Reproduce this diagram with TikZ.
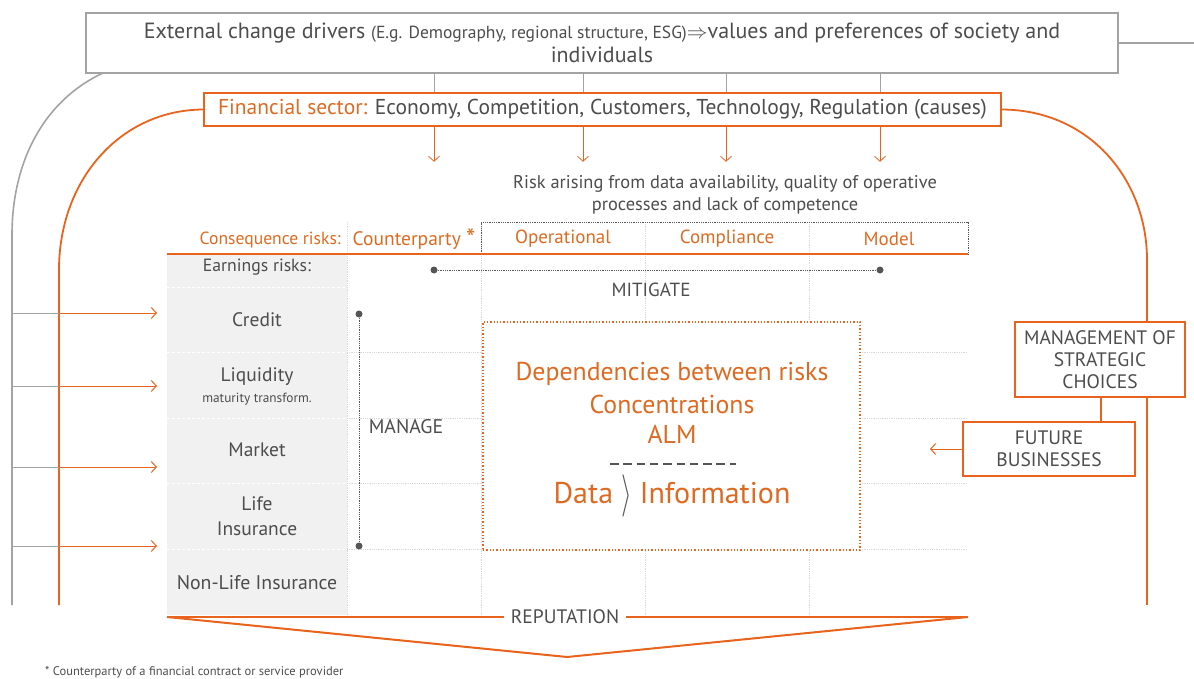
\documentclass[tikz,border=0pt]{standalone}
\usepackage{fontspec}
\setmainfont{PT Sans}
\usetikzlibrary{arrows.meta}
\definecolor{orng}{HTML}{E8641E}
\definecolor{otext}{HTML}{DE6A22}
\definecolor{tgray}{HTML}{4D4D4D}
\definecolor{bgray}{HTML}{A3A3A3}
\definecolor{colfill}{HTML}{F1F1F1}
\definecolor{gridc}{HTML}{D9D9D9}
\definecolor{dgray}{HTML}{555555}
\tikzset{
  fs/.style 2 args={font=\fontsize{#1}{#2}\selectfont},
  gtext/.style={text=tgray, inner sep=0pt},
  otext/.style={text=otext, inner sep=0pt},
  chev/.style={-{Straight Barb[length=5pt,width=11pt]}},
  obox/.style={draw=orng, line width=1.6pt, fill=white, align=center, text=tgray, inner sep=0pt},
  gridline/.style={draw=gridc, densely dotted, line width=0.8pt},
  sepline/.style={draw=white, densely dashed, line width=1pt},
  dotend/.style={circle, fill=dgray, inner sep=0pt, minimum size=7pt},
}
\begin{document}
\begin{tikzpicture}[x=1pt,y=-1pt]
\useasboundingbox (0,0) rectangle (1194,679);

% ---- outer frame lines ----
\node[draw=bgray, line width=1.6pt, minimum width=1032pt, minimum height=60pt, inner sep=0pt] (ext) at (602,43) {};
\node[gtext, fs={22}{24}, align=center] (exttxt) at (602,43)
  {External change drivers {\fontsize{17.5}{20}\selectfont (E.g. Demography, regional structure, ESG)}$\Rightarrow$values and preferences of society and\\individuals};
\coordinate (gtop) at (103,73);
\draw[bgray, line width=1.6pt] (gtop) .. controls (45,100) and (12,160) .. (12,235) -- (12,605);
\coordinate (gright) at (1194,43);
\draw[bgray, line width=1.6pt] (ext.east) -- (gright);

\node[obox, minimum width=797pt, minimum height=33pt] (fin) at (602.5,109.5)
  {\fontsize{21.5}{24}\selectfont{\color{otext}Financial sector:} Economy, Competition, Customers, Technology, Regulation (causes)};
\draw[orng, line width=1.8pt] (fin.west) .. controls (120,110) and (59,180) .. (59,270) -- (59,605);

% ---- causes feeding into the risk areas ----
\foreach \cx [count=\i] in {434,583,726,880} {
  \coordinate (c\i) at (\cx,0);
  \draw[bgray, line width=0.8pt] (ext.south -| c\i) -- (fin.north -| c\i);
  \draw[orng, line width=0.8pt, chev] (fin.south -| c\i) -- ++(0,35);
}

\node[gtext, fs={18.4}{22}, align=center] (riskop) at (725,195)
  {Risk arising from data availability, quality of operative\\processes and lack of competence};

% ---- risk table ----
\fill[colfill] (167,255) rectangle (347,615);
\foreach \ry in {287,352,418,483,549} \draw[sepline] (167,\ry) -- (347,\ry);
\foreach \ry in {352,418,483,549} \draw[gridline] (347,\ry) -- (968,\ry);
\foreach \gx in {347,481,645,809} \draw[gridline] (\gx,222) -- (\gx,615);
\draw[dgray, densely dotted, line width=0.8pt] (481,254) -- (481,222) -- (968,222) -- (968,254);
\draw[orng, line width=1.3pt] (167,254) -- (968,254);

\node[otext, fs={17.6}{20}, anchor=east] (conseq) at (341,240) {Consequence risks:};
\node[otext, fs={19.5}{22}] (cpty) at (414,239) {Counterparty \raisebox{-2pt}{\scalebox{1.35}{*}}};
\node[otext, fs={19}{22}] (oper) at (563,239) {Operational};
\node[otext, fs={19}{22}] (compl) at (727,239) {Compliance};
\node[otext, fs={19}{22}] (model) at (889,239) {Model};

\node[gtext, fs={17.7}{20}] (earn) at (257,267) {Earnings risks:};
\node[gtext, fs={19.5}{22}] (credit) at (257,320) {Credit};
\node[gtext, fs={19.5}{22}] (liq) at (257,377) {Liquidity};
\node[gtext, fs={13.3}{15}] (matur) at (257,399) {maturity transform.};
\node[gtext, fs={19.5}{22}] (market) at (257,450) {Market};
\node[gtext, fs={19.5}{25}, align=center] (life) at (257,516) {Life\\Insurance};
\node[gtext, fs={19.8}{22}] (nonlife) at (257,583) {Non-Life Insurance};

% ---- mitigate / manage ----
\node[dotend] (mitL) at (434,270) {};
\node[dotend] (mitR) at (880,270) {};
\draw[dgray, densely dotted, line width=0.8pt] (mitL) -- (mitR);
\node[gtext, fs={19}{22}] (mitigate) at (651,290) {MITIGATE};
\node[dotend] (manT) at (359,314) {};
\node[dotend] (manB) at (359,546) {};
\draw[dgray, densely dotted, line width=0.8pt] (manT) -- (manB);
\node[gtext, fs={19.8}{22}] (manage) at (406,427) {MANAGE};

% ---- central box ----
\node[draw=orng, dotted, line width=1.3pt, fill=white, minimum width=377pt, minimum height=228pt, inner sep=0pt] (core) at (671.5,436) {};
\node[otext, fs={25.8}{30}] (dep) at (672,374) {Dependencies between risks};
\node[otext, fs={25.8}{30}] (conc) at (672,404) {Concentrations};
\node[otext, fs={25.8}{30}] (alm) at (672,434) {ALM};
\coordinate (dashL) at (610,464);
\coordinate (dashR) at (736,464);
\draw[dgray, line width=1.2pt, dash pattern=on 8.5pt off 4.8pt] (dashL) -- (dashR);
\node[otext, fs={30}{34}] (data) at (672,496) {Data \raisebox{-3pt}{\color{dgray}\scalebox{1.1}[1.7]{$\rangle$}} Information};

% ---- strategic choices ----
\node[obox, minimum width=170pt, minimum height=75pt, fs={19.5}{22}] (mgmt) at (1100,359.5)
  {MANAGEMENT OF\\STRATEGIC\\CHOICES};
\node[obox, minimum width=172pt, minimum height=54pt, fs={19.5}{22}] (future) at (1049,449)
  {FUTURE\\BUSINESSES};
\coordinate (mx) at (1101,0);
\draw[orng, line width=1.2pt] (mgmt.south -| mx) -- (future.north -| mx);
\coordinate (fb) at (930,449);
\draw[orng, line width=1pt, chev] (future.west) -- (fb);

\coordinate (rx) at (1147,0);
\draw[orng, line width=1.8pt] (fin.east) .. controls (1090,110) and (1147,180) .. (1147,260) -- (mgmt.north -| rx);
\draw[orng, line width=1.8pt] (mgmt.south -| rx) -- (1147,605);

% ---- inflow arrows on the left ----
\foreach \ay [count=\j] in {313,386,467,546} {
  \coordinate (aL\j) at (12,\ay);
  \coordinate (aM\j) at (59,\ay);
  \coordinate (aR\j) at (157,\ay);
  \draw[bgray, line width=1pt] (aL\j) -- (aM\j);
  \draw[orng, line width=1pt, chev] (aM\j) -- (aR\j);
}

% ---- reputation ----
\node[gtext, fs={19.5}{22}, fill=white, inner xsep=7pt] (rep) at (565,617) {REPUTATION};
\coordinate (repL) at (167,617);
\coordinate (repR) at (968,617);
\coordinate (repV) at (567,657);
\draw[orng, line width=1.2pt] (repL) -- (rep.west);
\draw[orng, line width=1.2pt] (rep.east) -- (repR);
\draw[orng, line width=2pt, line join=round] (repL) -- (repV) -- (repR);

\node[gtext, fs={12.5}{14}, anchor=base west] (foot) at (45,675) {* Counterparty of a financial contract or service provider};
\end{tikzpicture}
\end{document}
